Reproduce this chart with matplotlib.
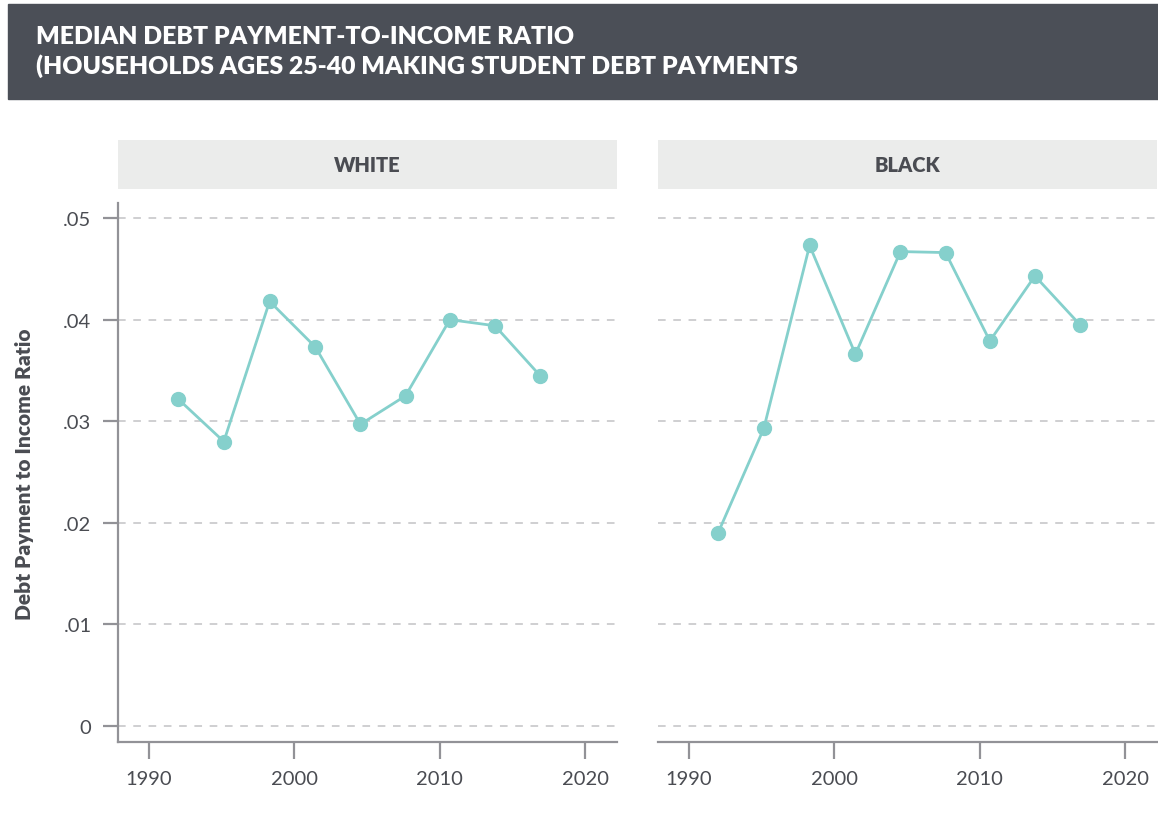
import matplotlib.pyplot as plt
from matplotlib.patches import Rectangle

# Survey points (year as plotted) and median debt payment / income ratio
years = [1992.0, 1995.15, 1998.3, 2001.45, 2004.55, 2007.65, 2010.7, 2013.8, 2016.9]
white = [0.0322, 0.0280, 0.0418, 0.0373, 0.0297, 0.0325, 0.0400, 0.0394, 0.0345]
black = [0.0190, 0.0293, 0.0473, 0.0366, 0.0467, 0.0466, 0.0379, 0.0443, 0.0395]
groups = ['WHITE', 'BLACK']

y_ticks = [0, 0.01, 0.02, 0.03, 0.04, 0.05]
y_labels = ['0', '.01', '.02', '.03', '.04', '.05']
x_ticks = [1990, 2000, 2010, 2020]

title = 'MEDIAN DEBT PAYMENT-TO-INCOME RATIO\n(HOUSEHOLDS AGES 25-40 MAKING STUDENT DEBT PAYMENTS'

plt.rcParams['font.family'] = ['Lato', 'DejaVu Sans']

teal = '#85d0cc'
axis_grey = '#929297'
text_grey = '#4a4c52'

W, H = 1158, 820
fig = plt.figure(figsize=(W / 100, H / 100), dpi=100)

# title banner
fig.patches.append(Rectangle((8 / W, 1 - 100 / H), 1150 / W, 95 / H,
                             transform=fig.transFigure, color='#4b4f57', zorder=0))
fig.text(36 / W, 1 - 52 / H, title, color='white', fontsize=17.8, fontweight='heavy',
         va='center', ha='left', linespacing=1.35)

panels = [(118, white), (658, black)]
for i, (left, vals) in enumerate(panels):
    ax = fig.add_axes([left / W, 1 - 743 / H, 499 / W, 539 / H])
    ax.plot(years, vals, color=teal, lw=2, marker='o', ms=10, zorder=3)
    ax.set_xlim(1987.87, 2022.2)
    ax.set_ylim(-0.00157, 0.05148)
    ax.set_yticks(y_ticks)
    ax.set_xticks(x_ticks)
    ax.set_xticklabels([str(x) for x in x_ticks])
    for y in y_ticks:
        ax.axhline(y, color='#c2c2c5', lw=1.1, ls=(0, (5, 5)), zorder=1)
    for s in ['top', 'right']:
        ax.spines[s].set_visible(False)
    ax.spines['bottom'].set_color(axis_grey)
    ax.spines['bottom'].set_linewidth(1.6)
    ax.tick_params(axis='x', length=12, width=1.6, color=axis_grey, labelcolor=text_grey,
                   labelsize=14.5, pad=8)
    if i == 0:
        ax.set_yticklabels(y_labels)
        ax.spines['left'].set_color(axis_grey)
        ax.spines['left'].set_linewidth(1.6)
        ax.tick_params(axis='y', length=11, width=1.6, color=axis_grey, labelcolor=text_grey,
                       labelsize=14.5, pad=8)
    else:
        ax.spines['left'].set_visible(False)
        ax.tick_params(axis='y', left=False, labelleft=False)

    # facet strip
    strip = fig.add_axes([left / W, 1 - 190 / H, 499 / W, 49 / H])
    strip.set_facecolor('#ebeceb')
    strip.set_xticks([])
    strip.set_yticks([])
    for s in strip.spines.values():
        s.set_visible(False)
    strip.text(0.5, 0.5, groups[i], transform=strip.transAxes, ha='center', va='center',
               fontsize=14.5, fontweight='heavy', color=text_grey)

fig.text(25 / W, 1 - 474 / H, 'Debt Payment to Income Ratio', rotation=90, ha='center',
         va='center', fontsize=15, fontweight='heavy', color=text_grey)

fig.savefig('out.png', dpi=100)
